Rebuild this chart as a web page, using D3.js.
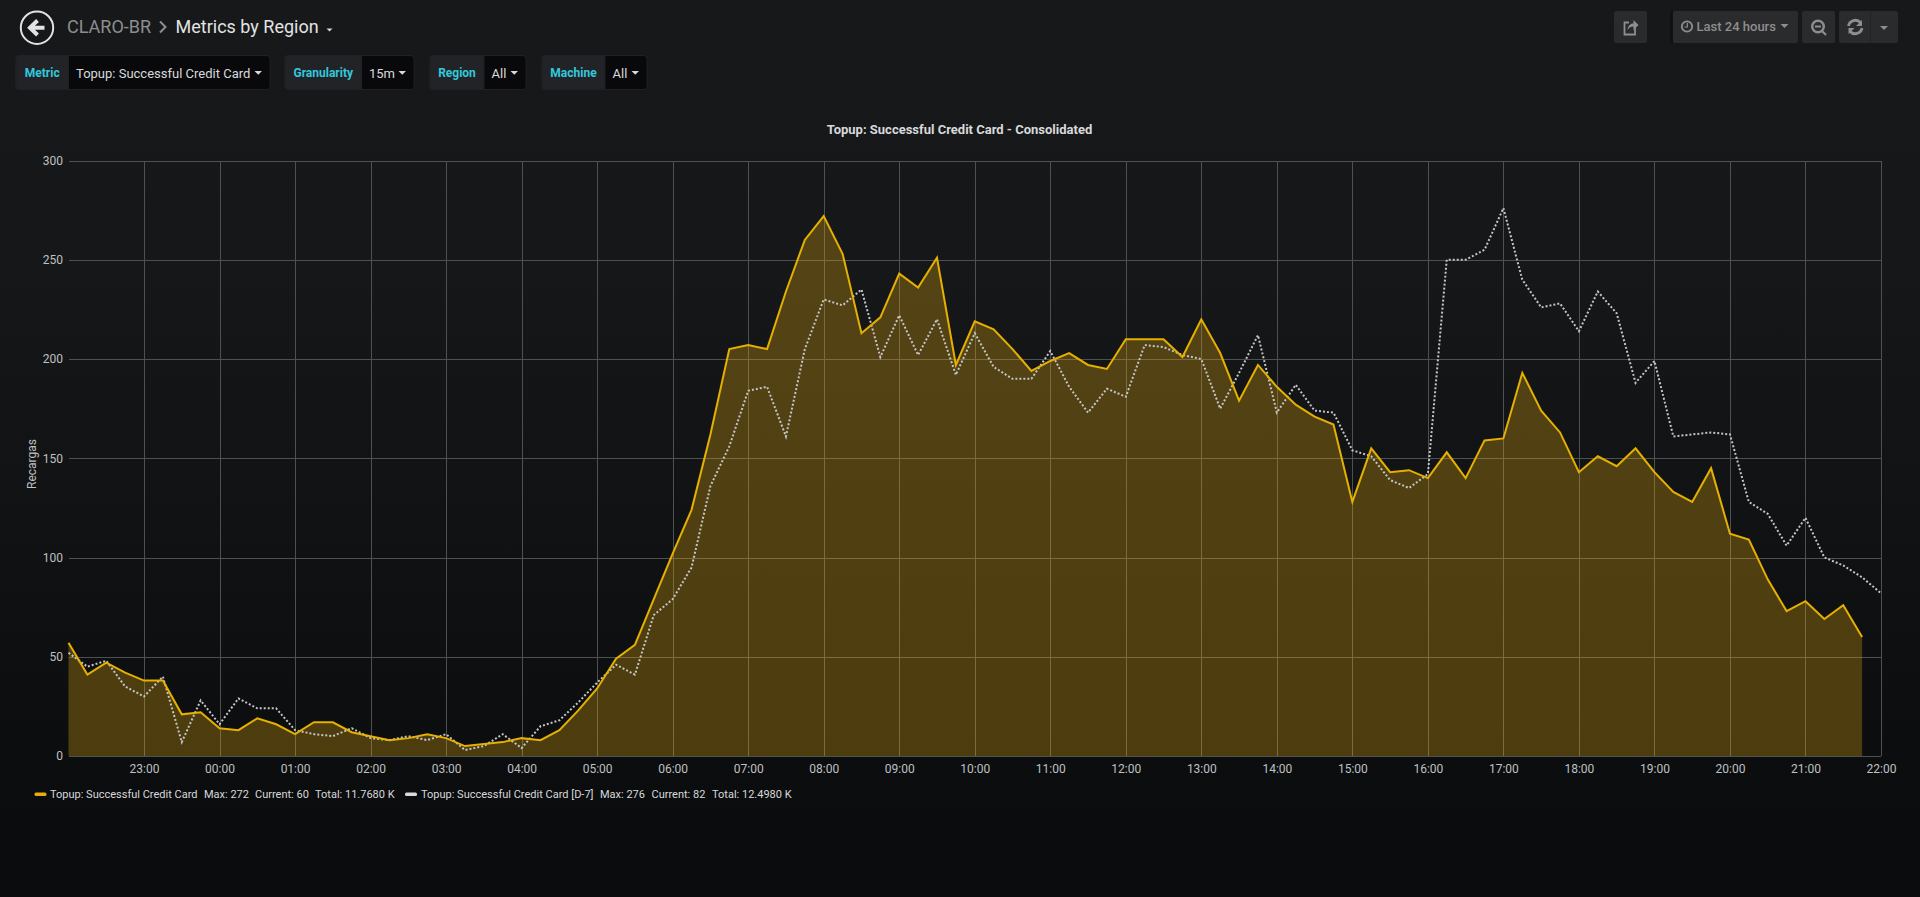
<!DOCTYPE html>
<html>
<head>
<meta charset="utf-8">
<title>Metrics by Region</title>
<script src="https://cdnjs.cloudflare.com/ajax/libs/d3/7.8.5/d3.min.js"></script>
<style>
  html, body { margin: 0; padding: 0; background: #0b0c0e; overflow: hidden; }
  text { font-family: Roboto, sans-serif; }
</style>
</head>
<body>
<script>
// values, one point every 15 minutes from 22:00
const current = [
  57, 41, 47, 42, 38, 38, 21, 22, 14, 13, 19, 16, 11, 17, 17, 12,
  10, 8, 9, 11, 9, 5, 6, 7, 9, 8, 13, 23, 34, 49, 56, 79,
  102, 124, 162, 205, 207, 205, 234, 260, 272, 253, 213, 221, 243, 236, 251, 197,
  219, 215, 205, 194, 199, 203, 197, 195, 210, 210, 210, 201, 220, 203, 179, 197,
  186, 177, 171, 167, 128, 155, 143, 144, 140, 153, 140, 159, 160, 193, 174, 163,
  143, 151, 146, 155, 143, 133, 128, 145, 112, 109, 89, 73, 78, 69, 76, 60
]
const lastWeek = [
  52, 45, 48, 35, 30, 40, 7, 28, 16, 29, 24, 24, 13, 11, 10, 14,
  9, 8, 10, 8, 11, 3, 5, 11, 4, 15, 18, 27, 37, 46, 41, 71,
  79, 95, 136, 156, 184, 186, 161, 205, 230, 227, 235, 201, 222, 202, 220, 192,
  213, 196, 190, 190, 204, 186, 173, 185, 181, 207, 206, 202, 200, 175, 193, 212,
  173, 187, 174, 173, 154, 151, 139, 135, 142, 250, 250, 255, 276, 240, 226, 228,
  214, 234, 223, 188, 199, 161, 162, 163, 162, 128, 122, 106, 120, 100, 96, 90, 82
]
const yTicks = [0, 50, 100, 150, 200, 250, 300]
const hourLabels = ["22:00", "23:00", "00:00", "01:00", "02:00", "03:00", "04:00", "05:00", "06:00", "07:00",
  "08:00", "09:00", "10:00", "11:00", "12:00", "13:00", "14:00", "15:00", "16:00", "17:00", "18:00", "19:00", "20:00", "21:00", "22:00"]
const templateVars = [
  { label: "Metric", value: "Topup: Successful Credit Card", x0: 16, x1: 68.5, x2: 270 },
  { label: "Granularity", value: "15m", x0: 285, x1: 361.5, x2: 414 },
  { label: "Region", value: "All", x0: 430, x1: 484, x2: 526 },
  { label: "Machine", value: "All", x0: 542, x1: 605, x2: 647 }
]
const legendItems = [
  { color: "#E5AC0E", x: 34.5, name: "Topup: Successful Credit Card", nameX: 50, max: "Max: 272", maxX: 204, cur: "Current: 60", curX: 255, total: "Total: 11.7680 K", totalX: 315 },
  { color: "#d8d9da", x: 405, name: "Topup: Successful Credit Card [D-7]", nameX: 421, max: "Max: 276", maxX: 600, cur: "Current: 82", curX: 651.5, total: "Total: 12.4980 K", totalX: 712 }
]

const width = 1920
const height = 897
const start = Date.UTC(2018, 0, 1, 22)
const step = 15 * 60 * 1000
const hour = 4 * step

const x = d3.scaleUtc().domain([start, start + 24 * hour]).range([68.5, 1881])
const y = d3.scaleLinear().domain([0, 300]).range([756, 160.5])

const svg = d3.select("body").append("svg")
  .attr("width", width)
  .attr("height", height)
  .style("display", "block")

const bg = svg.append("defs").append("linearGradient")
  .attr("id", "page-bg")
  .attr("x1", 0).attr("x2", 0).attr("y1", 0).attr("y2", 1)
bg.append("stop").attr("offset", "0%").attr("stop-color", "#17181a")
bg.append("stop").attr("offset", "30%").attr("stop-color", "#161719")
bg.append("stop").attr("offset", "90%").attr("stop-color", "#0b0c0e")
bg.append("stop").attr("offset", "100%").attr("stop-color", "#0b0c0e")

svg.append("rect").attr("width", width).attr("height", height).attr("fill", "url(#page-bg)")

// top bar
const nav = svg.append("g")
nav.append("circle").attr("cx", 37).attr("cy", 27.7).attr("r", 16.2)
  .attr("fill", "none").attr("stroke", "#e3e3e3").attr("stroke-width", 2)
nav.append("path").attr("d", "M37.5 20.5 L30 27.7 L37.5 35 M30.5 27.7 H44.5")
  .attr("fill", "none").attr("stroke", "#e3e3e3").attr("stroke-width", 4)
nav.append("text").attr("x", 67).attr("y", 32.5).attr("font-size", 18).attr("fill", "#8e8e8e").text("CLARO-BR")
nav.append("path").attr("d", "M160 21.5 L165.5 27 L160 32.5").attr("fill", "none").attr("stroke", "#8e8e8e").attr("stroke-width", 2)
nav.append("text").attr("x", 175.5).attr("y", 32.5).attr("font-size", 18).attr("fill", "#e3e3e3").text("Metrics by Region")
nav.append("path").attr("d", "M326.5 28.5 h6 l-3 3 z").attr("fill", "#d8d9da")

const tb = [
  { x: 1614, w: 33 }, { x: 1673, w: 125 }, { x: 1802, w: 33 }, { x: 1839, w: 59 }
]
nav.selectAll("rect.btn").data(tb).join("rect")
  .attr("class", "btn")
  .attr("x", d => d.x).attr("y", 11).attr("width", d => d.w).attr("height", 32).attr("rx", 2)
  .attr("fill", "#2a2b2d")
nav.append("rect").attr("x", 1670).attr("y", 11).attr("width", 3).attr("height", 32).attr("fill", "#101113")
nav.append("line").attr("x1", 1870.5).attr("x2", 1870.5).attr("y1", 11).attr("y2", 43).attr("stroke", "#222325")

// share icon
nav.append("path").attr("d", "M1635 25 V34.5 H1624.5 V22.5 H1629")
  .attr("fill", "none").attr("stroke", "#8e8e8e").attr("stroke-width", 1.8)
nav.append("path").attr("d", "M1627.5 30 C1628 25 1631 23.5 1633.5 23.5 V20 L1638.5 25 L1633.5 30 V26.5 C1631 26.5 1629 27.5 1627.5 30 Z").attr("fill", "#8e8e8e")
// clock
nav.append("circle").attr("cx", 1687).attr("cy", 26.5).attr("r", 5.2).attr("fill", "none").attr("stroke", "#8e8e8e").attr("stroke-width", 1.8)
nav.append("path").attr("d", "M1687.3 23 V27 H1684.5").attr("fill", "none").attr("stroke", "#8e8e8e").attr("stroke-width", 1.2)
nav.append("text").attr("x", 1696.5).attr("y", 31).attr("font-size", 13).attr("font-weight", 500).attr("fill", "#8e8e8e").text("Last 24 hours")
nav.append("path").attr("d", "M1780.5 24 h8 l-4 4 z").attr("fill", "#8e8e8e")
// zoom out
nav.append("circle").attr("cx", 1818).attr("cy", 26.5).attr("r", 5.8).attr("fill", "none").attr("stroke", "#8e8e8e").attr("stroke-width", 2.4)
nav.append("path").attr("d", "M1815 26.5 H1821 M1822 31 L1826 35").attr("fill", "none").attr("stroke", "#8e8e8e").attr("stroke-width", 2.2)
// refresh
nav.append("path").attr("d", "M1848.5 26 A7 7 0 0 1 1860.5 22.5 M1862 28 A7 7 0 0 1 1850 31.5")
  .attr("fill", "none").attr("stroke", "#8e8e8e").attr("stroke-width", 2.8)
nav.append("path").attr("d", "M1862 20 V26 H1856 Z M1848.5 34 V28 H1854.5 Z").attr("fill", "#8e8e8e")
nav.append("path").attr("d", "M1880 26 h8 l-4 4 z").attr("fill", "#8e8e8e")

// template variables
const vars = svg.append("g").selectAll("g").data(templateVars).join("g")
vars.append("rect").attr("x", d => d.x0).attr("y", 55.5).attr("width", d => d.x2 - d.x0).attr("height", 34).attr("rx", 3)
  .attr("fill", "#09090b").attr("stroke", "#1f2124")
vars.append("path").attr("d", d => `M${d.x1} 55.5 H${d.x0 + 3} Q${d.x0} 55.5 ${d.x0} 58.5 V86.5 Q${d.x0} 89.5 ${d.x0 + 3} 89.5 H${d.x1} Z`)
  .attr("fill", "#212327").attr("stroke", "#1f2124")
vars.append("text").attr("x", d => (d.x0 + d.x1) / 2).attr("y", 77).attr("text-anchor", "middle")
  .attr("font-size", 12).attr("font-weight", 700).attr("fill", "#33c8dc").text(d => d.label)
vars.append("text").attr("x", d => d.x1 + 7.5).attr("y", 77.5).attr("font-size", 13).attr("fill", "#d8d9da").text(d => d.value)
vars.append("path").attr("d", d => `M${d.x2 - 15.5} 71 h7.5 l-3.75 3.75 z`).attr("fill", "#d8d9da")

// panel
svg.append("text").attr("x", 959.5).attr("y", 133.5).attr("text-anchor", "middle")
  .attr("font-size", 13).attr("font-weight", 700).attr("fill", "#d8d9da")
  .text("Topup: Successful Credit Card - Consolidated")

const gridColor = "#4f5051"

const xAxis = d3.axisBottom(x)
  .tickValues(d3.range(1, 25).map(i => start + i * hour))
  .tickFormat((d, i) => hourLabels[i + 1])
  .tickSize(y(300) - y(0))
  .tickPadding(0)

svg.append("g")
  .attr("transform", `translate(0,${y(0)})`)
  .call(xAxis)
  .call(g => g.select(".domain").remove())
  .call(g => g.selectAll(".tick line").attr("stroke", gridColor).attr("shape-rendering", "crispEdges"))
  .call(g => g.selectAll(".tick text").attr("y", 17).attr("dy", 0).attr("font-size", 12).attr("fill", "#bfc0c1").attr("font-family", "Roboto, sans-serif"))

const yAxis = d3.axisLeft(y)
  .tickValues(yTicks)
  .tickSize(x(start) - x(start + 24 * hour))
  .tickPadding(0)

svg.append("g")
  .attr("transform", `translate(${x(start)},0)`)
  .call(yAxis)
  .call(g => g.select(".domain").remove())
  .call(g => g.selectAll(".tick line").attr("x1", 0).attr("x2", x(start + 24 * hour) - x(start)).attr("stroke", gridColor).attr("shape-rendering", "crispEdges"))
  .call(g => g.selectAll(".tick text").attr("x", -5.5).attr("dy", "0.32em").attr("font-size", 12).attr("fill", "#bfc0c1").attr("font-family", "Roboto, sans-serif"))

svg.append("text")
  .attr("transform", "translate(36,464) rotate(-90)")
  .attr("text-anchor", "middle")
  .attr("font-size", 12)
  .attr("fill", "#bfc0c1")
  .text("Recargas")

const area = d3.area()
  .x((d, i) => x(start + i * step))
  .y0(y(0))
  .y1(d => y(d))
const line = d3.line()
  .x((d, i) => x(start + i * step))
  .y(d => y(d))

svg.append("path").datum(current)
  .attr("d", area)
  .attr("fill", "#E5AC0E")
  .attr("fill-opacity", 0.3)

svg.append("path").datum(lastWeek)
  .attr("d", line)
  .attr("fill", "none")
  .attr("stroke", "#c4c5c6")
  .attr("stroke-width", 2)
  .attr("stroke-dasharray", "2 2")

svg.append("path").datum(current)
  .attr("d", line)
  .attr("fill", "none")
  .attr("stroke", "#E5B000")
  .attr("stroke-width", 2)

// legend
const legend = svg.append("g").selectAll("g").data(legendItems).join("g")
legend.append("rect").attr("x", d => d.x).attr("y", 792.5).attr("width", 12).attr("height", 3.5).attr("rx", 1.5).attr("fill", d => d.color)
for (const [key, pos] of [["name", "nameX"], ["max", "maxX"], ["cur", "curX"], ["total", "totalX"]]) {
  legend.append("text")
    .attr("x", d => d[pos])
    .attr("y", 798)
    .attr("font-size", 11)
    .attr("fill", "#d8d9da")
    .text(d => d[key])
}
</script>
</body>
</html>
